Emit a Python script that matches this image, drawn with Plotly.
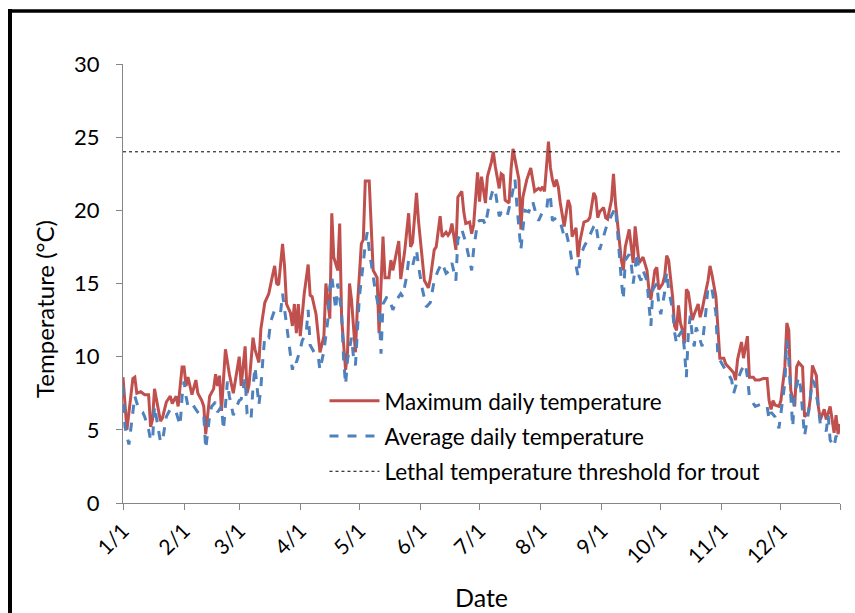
import pandas as pd
import plotly.graph_objects as go

# ---- data (day offsets from Jan 1, values in °C) ----
max_days = [0, 2, 5, 6, 7, 9, 11, 13, 14, 15, 16, 17, 19, 20, 22, 24, 25, 27, 28, 30, 31, 32, 33, 35, 37, 38,
            40, 41, 42, 44, 46, 47, 48, 49, 50, 52, 54, 56, 59, 60, 62, 63, 64, 66, 67, 69, 70, 72, 74, 76, 77,
            78, 79, 81, 82, 83, 85, 86, 87, 88, 89, 90, 92, 94, 95, 96, 98, 100, 102, 103, 105, 106, 107, 109,
            110, 111, 113, 114, 115, 116, 118, 119, 121, 122, 123, 125, 126, 127, 129, 130, 132, 133, 135, 136,
            137, 140, 141, 143, 145, 146, 147, 149, 150, 152, 153, 155, 156, 158, 159, 161, 162, 164, 165, 166,
            167, 169, 170, 172, 173, 174, 176, 177, 178, 180, 181, 182, 184, 185, 187, 188, 189, 191, 192, 193,
            194, 196, 197, 198, 200, 201, 202, 203, 204, 205, 207, 208, 209, 211, 212, 213, 214, 216, 217, 218,
            219, 220, 221, 222, 224, 226, 227, 228, 230, 231, 232, 234, 236, 237, 239, 240, 241, 242, 244, 245,
            246, 248, 249, 250, 252, 253, 254, 255, 257, 258, 259, 260, 262, 263, 264, 266, 267, 268, 270, 271,
            272, 274, 275, 276, 277, 279, 280, 281, 282, 283, 284, 285, 286, 287, 289, 290, 292, 293, 294, 295,
            297, 298, 299, 301, 302, 303, 305, 306, 308, 310, 311, 312, 314, 315, 317, 318, 320, 321, 323, 325,
            327, 328, 329, 330, 331, 333, 334, 336, 337, 338, 339, 341, 342, 343, 345, 346, 348, 349, 350, 352,
            353, 354, 356, 357, 359, 361, 362, 363, 364]
max_vals = [8.6, 5.0, 8.5, 8.6, 7.5, 7.6, 7.4, 7.4, 5.2, 5.7, 7.8, 7.0, 5.6, 5.8, 6.9, 7.3, 6.8, 7.3, 6.6, 9.3,
            9.3, 8.0, 8.6, 7.4, 8.4, 7.5, 7.0, 6.6, 4.7, 7.3, 7.8, 8.8, 8.0, 8.7, 6.3, 10.5, 8.8, 7.5, 10.0, 8.0,
            10.7, 7.5, 8.1, 11.3, 10.5, 9.6, 11.9, 13.7, 14.3, 15.6, 16.2, 15.0, 14.9, 17.7, 16.2, 13.6, 13.0,
            12.1, 13.6, 11.6, 13.6, 11.4, 14.3, 16.3, 14.2, 14.1, 12.9, 10.3, 11.4, 15.0, 12.6, 19.8, 16.8,
            15.9, 19.1, 12.6, 9.1, 10.3, 15.0, 13.9, 10.3, 13.4, 17.7, 18.0, 22.0, 22.0, 19.3, 15.9, 15.4, 11.6,
            18.2, 15.4, 15.4, 16.6, 15.9, 17.9, 15.3, 17.2, 19.8, 17.5, 17.8, 21.2, 19.3, 16.2, 15.2, 14.7,
            15.3, 17.3, 17.5, 19.6, 18.2, 18.5, 18.3, 18.5, 19.1, 17.3, 20.9, 21.3, 19.9, 19.1, 19.2, 18.4,
            19.0, 22.6, 20.6, 22.3, 20.5, 22.3, 23.3, 24.0, 23.0, 21.5, 22.5, 22.4, 20.7, 20.5, 22.8, 24.2,
            22.8, 22.1, 18.7, 20.9, 21.5, 22.1, 22.9, 22.1, 21.3, 21.5, 21.4, 21.6, 21.3, 24.7, 22.9, 22.1,
            21.6, 22.1, 21.6, 20.5, 18.9, 20.7, 20.3, 18.2, 18.8, 16.8, 17.9, 19.2, 19.3, 19.5, 21.2, 20.9,
            19.5, 19.9, 20.2, 19.5, 19.4, 20.7, 22.5, 20.5, 18.0, 16.6, 15.9, 17.5, 18.7, 17.3, 16.4, 18.9,
            16.4, 16.6, 16.8, 15.9, 14.6, 13.9, 15.9, 16.1, 14.6, 15.0, 15.5, 16.9, 16.6, 14.1, 12.1, 11.8,
            13.5, 12.3, 11.8, 10.9, 14.6, 14.4, 12.5, 12.9, 13.6, 12.7, 13.2, 13.9, 15.2, 16.2, 15.6, 14.1,
            11.8, 9.9, 9.9, 9.5, 9.2, 8.9, 8.4, 9.8, 11.0, 9.9, 11.4, 8.6, 8.6, 8.4, 8.4, 8.5, 8.5, 7.0, 6.4,
            7.0, 6.7, 6.6, 7.0, 9.3, 12.3, 11.8, 7.7, 6.6, 9.3, 9.6, 9.3, 5.9, 6.2, 7.2, 9.4, 8.7, 6.6, 5.7,
            6.4, 5.7, 6.6, 4.8, 6.0, 4.7, 5.4]

avg_days = [0, 1, 3, 5, 6, 8, 10, 11, 13, 14, 15, 16, 18, 19, 20, 22, 24, 25, 27, 29, 30, 31, 32, 33, 35, 37, 38,
            40, 41, 42, 44, 45, 47, 48, 50, 51, 53, 54, 56, 58, 59, 60, 62, 63, 65, 66, 67, 69, 70, 71, 72, 74,
            75, 77, 80, 81, 82, 84, 86, 87, 88, 90, 91, 93, 94, 95, 97, 99, 100, 102, 104, 105, 106, 108, 109,
            111, 112, 113, 114, 116, 117, 118, 120, 122, 123, 124, 125, 127, 128, 130, 131, 132, 134, 136, 137,
            139, 141, 142, 144, 145, 146, 147, 149, 150, 152, 154, 156, 158, 160, 162, 164, 166, 167, 169, 170,
            172, 174, 175, 177, 178, 180, 181, 183, 184, 186, 188, 189, 191, 192, 194, 195, 197, 199, 200, 202,
            203, 204, 206, 208, 210, 211, 213, 215, 216, 217, 218, 220, 222, 224, 225, 227, 228, 230, 231, 232,
            234, 236, 239, 240, 242, 243, 245, 246, 248, 250, 251, 252, 253, 254, 255, 257, 258, 259, 261, 262,
            263, 264, 266, 267, 268, 269, 271, 272, 273, 275, 276, 277, 279, 280, 281, 282, 284, 285, 286, 287,
            288, 289, 290, 291, 293, 294, 296, 297, 299, 301, 302, 304, 305, 307, 309, 310, 312, 314, 316, 317,
            318, 320, 321, 323, 325, 327, 328, 329, 331, 333, 334, 336, 337, 338, 339, 340, 341, 343, 344, 345,
            346, 348, 350, 351, 353, 354, 356, 357, 358, 359, 361, 362, 363, 364]
avg_vals = [8.0, 5.2, 4.0, 6.2, 7.3, 6.4, 6.2, 5.9, 5.0, 4.3, 4.3, 6.6, 5.0, 4.2, 4.2, 5.9, 6.4, 6.2, 6.2, 5.3,
            7.3, 8.3, 7.3, 6.6, 6.8, 6.4, 6.2, 5.9, 6.0, 3.7, 6.0, 6.6, 6.9, 6.2, 6.6, 5.0, 8.3, 7.3, 6.0, 6.7,
            7.0, 7.1, 8.5, 6.1, 5.7, 7.9, 9.3, 6.7, 7.9, 9.8, 11.4, 11.3, 12.4, 13.2, 13.0, 14.3, 13.2, 11.1,
            9.1, 9.8, 9.6, 10.5, 11.1, 11.6, 13.2, 10.8, 10.3, 10.1, 9.1, 10.4, 12.5, 14.8, 15.5, 13.2, 15.0,
            13.0, 9.8, 8.1, 9.8, 11.3, 10.0, 9.4, 14.1, 16.4, 17.7, 18.5, 17.3, 15.5, 14.6, 13.2, 10.2, 13.6,
            14.1, 13.6, 13.2, 13.9, 14.3, 14.1, 15.5, 16.6, 16.4, 16.2, 17.3, 16.2, 14.6, 13.4, 13.7, 15.2,
            15.9, 16.4, 15.7, 15.9, 16.4, 15.2, 18.0, 18.7, 17.8, 17.1, 15.9, 17.3, 19.2, 19.3, 19.3, 19.0,
            20.5, 21.5, 21.3, 19.6, 19.8, 19.5, 19.6, 20.7, 22.1, 20.3, 17.3, 18.7, 20.0, 19.9, 20.6, 19.6,
            19.3, 19.9, 20.0, 21.1, 20.9, 19.3, 19.5, 19.2, 18.2, 18.5, 17.3, 16.4, 16.2, 15.5, 16.8, 17.5,
            18.0, 18.9, 19.1, 17.3, 17.8, 18.7, 19.1, 19.7, 20.2, 18.7, 16.6, 15.2, 13.9, 16.6, 17.0, 16.4,
            15.0, 17.1, 15.5, 15.2, 15.9, 15.2, 13.6, 12.1, 14.6, 15.0, 13.6, 12.9, 14.4, 15.8, 14.6, 13.2,
            11.7, 10.9, 11.4, 11.8, 10.5, 8.6, 11.6, 12.8, 11.4, 10.7, 12.0, 11.1, 10.7, 13.2, 14.8, 14.6,
            13.0, 10.0, 9.5, 9.3, 8.9, 8.4, 7.5, 8.4, 9.1, 9.5, 8.6, 7.3, 6.8, 6.6, 6.7, 6.8, 6.6, 5.7, 6.2,
            5.9, 5.1, 6.2, 8.2, 11.1, 9.8, 7.3, 5.2, 7.5, 8.6, 7.9, 6.2, 4.6, 6.2, 8.4, 8.2, 6.6, 5.4, 5.2,
            4.9, 6.0, 4.3, 3.85, 4.6, 4.3, 4.6]

threshold_value = 24.0
month_ticks = ["1/1", "2/1", "3/1", "4/1", "5/1", "6/1", "7/1", "8/1", "9/1", "10/1", "11/1", "12/1"]
y_ticks = [0, 5, 10, 15, 20, 25, 30]

start = pd.Timestamp("2011-01-01")
end = pd.Timestamp("2011-12-31")
max_x = [start + pd.Timedelta(days=d) for d in max_days]
avg_x = [start + pd.Timedelta(days=d) for d in avg_days]
tick_dates = [pd.Timestamp(2011, m, 1) for m in range(1, 13)] + [end]
tick_text = month_ticks + [""]

FONT = "Lato, Carlito, Calibri, 'Open Sans', sans-serif"
RED = "#C0504D"
BLUE = "#4F81BD"
AXIS = "#868686"

fig = go.Figure()
fig.add_trace(go.Scatter(x=max_x, y=max_vals, mode="lines", name="Maximum daily temperature",
                         line=dict(color=RED, width=3), legendgroup="a"))
fig.add_trace(go.Scatter(x=avg_x, y=avg_vals, mode="lines", name="Average daily temperature",
                         line=dict(color=BLUE, width=3, dash="dash"), legendgroup="b"))
fig.add_trace(go.Scatter(x=[start, end], y=[threshold_value, threshold_value], mode="lines",
                         name="Lethal temperature threshold for trout",
                         line=dict(color="#000000", width=1, dash="dot"), legendgroup="c"))

fig.update_layout(
    width=855, height=613,
    margin=dict(l=123, r=15, t=64, b=110, autoexpand=False),
    paper_bgcolor="white", plot_bgcolor="white",
    font=dict(family=FONT, size=22, color="#000000"),
    showlegend=True,
    legend=dict(x=0.281, y=0.281, xanchor="left", yanchor="top", bgcolor="rgba(0,0,0,0)",
                font=dict(size=22.5), tracegroupgap=3, traceorder="grouped", itemwidth=50),
    xaxis=dict(type="date", range=[start, end], tickmode="array", tickvals=tick_dates, ticktext=tick_text,
               tickangle=-45, ticks="outside", ticklen=6, tickcolor=AXIS, showline=True, linecolor=AXIS,
               linewidth=1.3, showgrid=False, zeroline=False, tickfont=dict(size=21), automargin=False,
               title=dict(text="Date", font=dict(size=25), standoff=22)),
    yaxis=dict(range=[0, 30], tickmode="array", tickvals=y_ticks, ticks="outside", ticklen=6,
               tickcolor=AXIS, showline=True, linecolor=AXIS, linewidth=1.3, showgrid=False,
               zeroline=False, tickfont=dict(size=22), ticklabelstandoff=12, automargin=False),
    annotations=[
        dict(text="Temperature (°C)", xref="paper", yref="paper", x=-0.1088, y=0.442,
             xanchor="center", yanchor="middle", textangle=-90, showarrow=False,
             font=dict(size=24, family=FONT, color="#000000")),
    ],
    shapes=[
        dict(type="line", xref="paper", yref="paper", x0=-0.1604, x1=1.03, y0=1.1207, y1=1.1207,
             line=dict(color="black", width=3.5)),
        dict(type="line", xref="paper", yref="paper", x0=-0.1576, x1=-0.1576, y0=-0.26, y1=1.1253,
             line=dict(color="black", width=4)),
    ],
)

fig.write_html("out.html")
